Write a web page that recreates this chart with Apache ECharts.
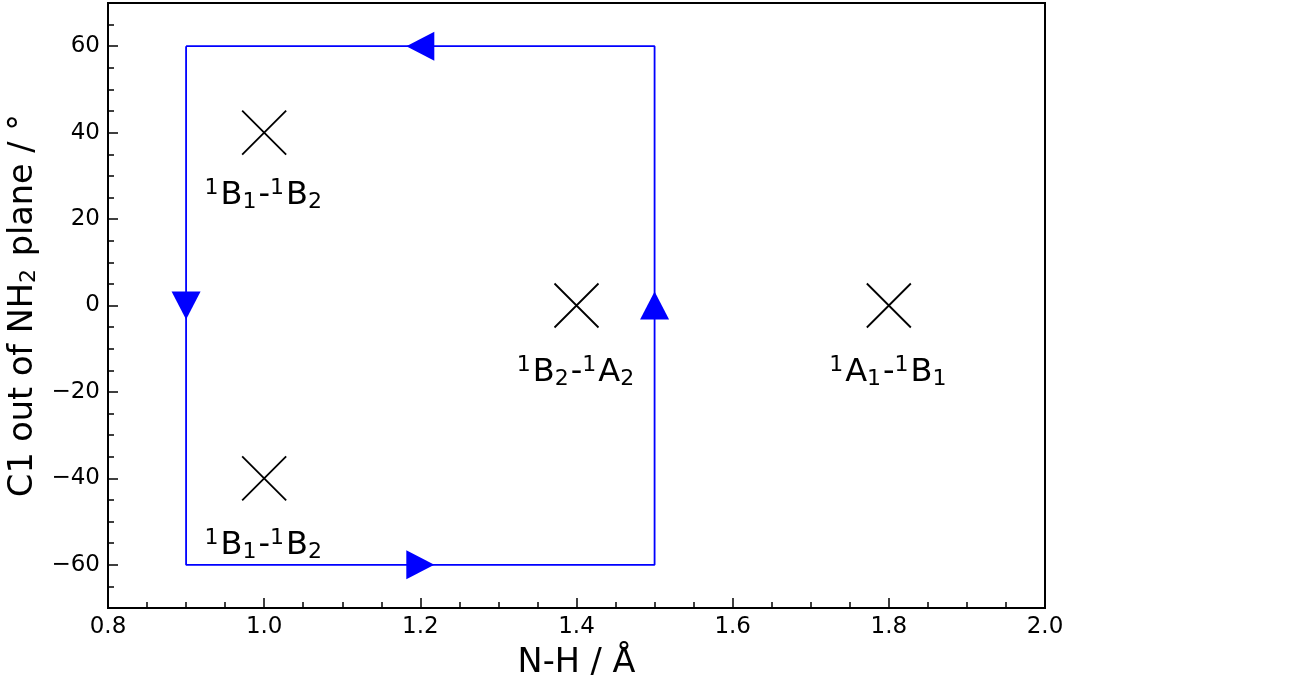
<!DOCTYPE html>
<html><head><meta charset="utf-8">
<script src="https://cdn.jsdelivr.net/npm/echarts@6/dist/echarts.min.js"></script>
<style>html,body{margin:0;padding:0;background:#fff}#c{width:1299px;height:679px}</style>
</head><body><div id="c"></div>
<script>
// ---- data ----
const xMin = 0.8, xMax = 2.0, xStep = 0.2;
const yMin = -70, yMax = 70;
const yTickValues = [-60, -40, -20, 0, 20, 40, 60];
const yMinorStep = 5;
const crossX = [1.0, 1.0, 1.4, 1.8];
const crossY = [40, -40, 0, 0];
const labelX = [1.0, 1.0, 1.4, 1.8];
const labelY = [25.5, -55.5, -15.5, -15.5];
const labelStates = [['B1', 'B2'], ['B1', 'B2'], ['B2', 'A2'], ['A1', 'B1']];
const pathX = [0.9, 1.5, 1.5, 0.9, 0.9];
const pathY = [60, 60, -60, -60, 60];
const arrowX = [1.2, 1.5, 1.2, 0.9];
const arrowY = [60, 0, -60, 0];
const arrowDir = ['left', 'up', 'right', 'down'];
const xName = 'N-H / Å';

// ---- build ----
const FF = 'DejaVu Sans';
const rot = {up: 0, left: 90, down: 180, right: -90};
function stateText(s) {
  return '{sup|1}{n|' + s.charAt(0) + '}{sub|' + s.charAt(1) + '}';
}
const rich = {
  n: {fontSize: 32, lineHeight: 36, fontFamily: FF, color: '#000'},
  sup: {fontSize: 22, lineHeight: 24, verticalAlign: 'top', padding: [0, 2, 0, 0], fontFamily: FF, color: '#000'},
  sub: {fontSize: 22, lineHeight: 22, verticalAlign: 'bottom', padding: [0, 2, 0, 0], fontFamily: FF, color: '#000'}
};
const fmtNum = v => (v < 0 ? '\u2212' + (-v) : '' + v);

const chart = echarts.init(document.getElementById('c'), null, {renderer: 'canvas'});
chart.setOption({
  animation: false,
  backgroundColor: '#fff',
  grid: {left: 108, right: 254, top: 3, bottom: 71, outerBoundsMode: 'none', containLabel: false,
    show: true, borderColor: '#000', borderWidth: 2, backgroundColor: 'transparent'},
  xAxis: {
    type: 'value', min: xMin, max: xMax, interval: xStep,
    name: xName, nameLocation: 'middle', nameGap: 38,
    nameTextStyle: {fontSize: 33.5, fontFamily: FF, color: '#000'},
    axisLine: {show: true, onZero: false, lineStyle: {color: '#000', width: 2}},
    axisTick: {show: true, inside: true, length: 10, lineStyle: {color: '#000', width: 1.5}},
    minorTick: {show: true, splitNumber: 4, length: 6, lineStyle: {color: '#000', width: 1.5}},
    axisLabel: {fontSize: 23, fontFamily: FF, color: '#000', margin: 8, formatter: v => v.toFixed(1)},
    splitLine: {show: false}, minorSplitLine: {show: false}
  },
  yAxis: [{
    type: 'value', min: yMin, max: yMax, position: 'left',
    name: 'C1 out of NH{ysub|2} plane / °', nameLocation: 'middle', nameGap: 67, nameRotate: 90,
    nameTextStyle: {fontSize: 33.5, fontFamily: FF, color: '#000',
      rich: {ysub: {fontSize: 22, lineHeight: 22, verticalAlign: 'bottom', padding: [0, 2, 0, 0], fontFamily: FF, color: '#000'}}},
    axisLine: {show: true, onZero: false, lineStyle: {color: '#000', width: 2}},
    axisTick: {show: true, inside: true, length: 10, customValues: yTickValues, lineStyle: {color: '#000', width: 1.5}},
    axisLabel: {fontSize: 23, fontFamily: FF, color: '#000', margin: 8, customValues: yTickValues, formatter: fmtNum},
    splitLine: {show: false}
  }, {
    type: 'value', min: yMin, max: yMax, interval: yMinorStep, position: 'left', offset: 0,
    axisLine: {show: false, onZero: false},
    axisTick: {show: true, inside: true, length: 6, lineStyle: {color: '#000', width: 1.5}},
    axisLabel: {show: false},
    splitLine: {show: false}
  }],
  series: [{
    type: 'line', silent: true, symbol: 'none', z: 2,
    lineStyle: {color: '#0000ff', width: 1.8},
    data: pathX.map((x, i) => [x, pathY[i]])
  }, {
    type: 'scatter', silent: true, z: 3,
    symbol: 'triangle', symbolSize: [29, 28],
    itemStyle: {color: '#0000ff', opacity: 1},
    data: arrowX.map((x, i) => ({value: [x, arrowY[i]], symbolRotate: rot[arrowDir[i]]}))
  }, {
    type: 'scatter', silent: true, z: 4,
    symbol: 'path://M0,0L10,10M10,0L0,10', symbolSize: 44,
    itemStyle: {color: 'none', borderColor: '#000', borderWidth: 1.8, opacity: 1},
    data: crossX.map((x, i) => [x, crossY[i]])
  }, {
    type: 'scatter', silent: true, z: 5,
    symbolSize: 1, itemStyle: {color: 'transparent', opacity: 1},
    label: {show: true, position: 'inside', color: '#000', opacity: 1, rich: rich,
      formatter: p => stateText(labelStates[p.dataIndex][0]) + '{n|-}' + stateText(labelStates[p.dataIndex][1])},
    data: labelX.map((x, i) => [x, labelY[i]])
  }]
});
</script></body></html>
